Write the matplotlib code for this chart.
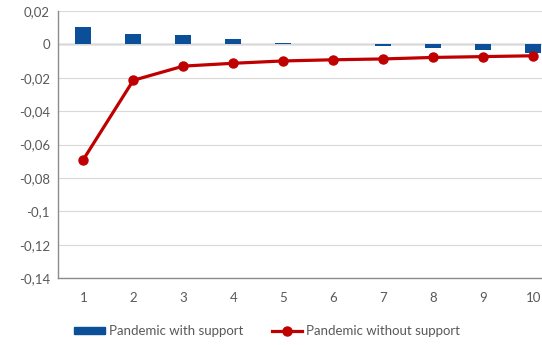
import matplotlib.pyplot as plt
from matplotlib.ticker import FuncFormatter
from matplotlib.lines import Line2D
from matplotlib.patches import Patch

plt.rcParams['font.family'] = ['Lato', 'DejaVu Sans']

periods = [1, 2, 3, 4, 5, 6, 7, 8, 9, 10]
with_support = [0.0103, 0.0060, 0.0055, 0.0030, 0.0010, 0.0, -0.0010, -0.0020, -0.0035, -0.0050]
without_support = [-0.0690, -0.0215, -0.0130, -0.0113, -0.0099, -0.0092, -0.0087, -0.0078, -0.0073, -0.0068]

blue = "#0B4F98"
red = "#C00000"
grey = "#595959"

fig = plt.figure(figsize=(5.42, 3.45), dpi=100)
# the right edge of the plot runs past the figure, as in the original crop
ax = fig.add_axes([0.1076, 0.194, 0.9225, 0.774])

ax.bar(periods, with_support, width=0.32, color=blue, zorder=2)
ax.plot(periods, without_support, color=red, linewidth=2.3, marker="o", markersize=6.5, zorder=3)

ax.set_xlim(0.5, 10.5)
ax.set_ylim(-0.14, 0.02)
ax.set_yticks([0.02, 0, -0.02, -0.04, -0.06, -0.08, -0.1, -0.12, -0.14])
ax.yaxis.set_major_formatter(FuncFormatter(lambda v, p: ("%g" % round(v, 2)).replace(".", ",")))
ax.set_xticks(periods)
ax.grid(axis="y", color="#D9D9D9", linewidth=0.8, zorder=0)
ax.axhline(0, color="#8C8C8C", linewidth=1.0, zorder=1)

for s in ["top", "right"]:
    ax.spines[s].set_visible(False)
for s in ["left", "bottom"]:
    ax.spines[s].set_color("#8C8C8C")
    ax.spines[s].set_linewidth(1.0)

ax.tick_params(axis="both", length=0, colors=grey, labelsize=9.5)
ax.tick_params(axis="x", pad=10)
ax.tick_params(axis="y", pad=6)

handles = [Patch(color=blue), Line2D([], [], color=red, linewidth=2.3, marker="o", markersize=6.5)]
fig.legend(handles, ["Pandemic with support", "Pandemic without support"],
           loc="center", bbox_to_anchor=(0.493, 0.04), ncol=2, frameon=False,
           fontsize=9.5, labelcolor=grey, handlelength=2.3, handletextpad=0.3,
           columnspacing=2.2, handleheight=0.5)

fig.savefig("out.png", dpi=100)
